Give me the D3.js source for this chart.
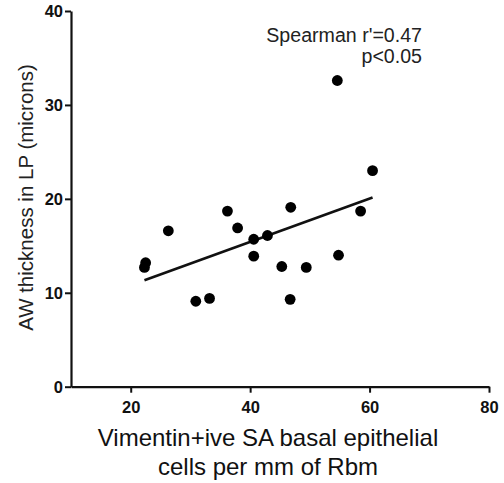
<!DOCTYPE html>
<html>
<head>
<meta charset="utf-8">
<script src="https://cdn.jsdelivr.net/npm/d3@7"></script>
<style>
  html, body { margin: 0; padding: 0; background: #fff; }
  svg { display: block; font-family: "Liberation Sans", Arial, sans-serif; }
</style>
</head>
<body>
<svg id="chart" width="504" height="483"></svg>
<script>
// Vimentin+ive SA basal epithelial cells per mm of Rbm (x) vs AW thickness in LP (y)
const cellsPerMm = [22.5, 22.3, 26.3, 30.9, 33.2, 36.2, 37.9, 40.6, 40.6, 42.9, 45.3, 46.8, 46.7, 49.4, 54.6, 54.8, 58.5, 60.5];
const awThickness = [13.2, 12.7, 16.6, 9.1, 9.4, 18.7, 16.9, 15.7, 13.9, 16.1, 12.8, 19.1, 9.3, 12.7, 32.6, 14.0, 18.7, 23.0];
const xTicks = [20, 40, 60, 80];
const yTicks = [0, 10, 20, 30, 40];
const statLines = ["Spearman r'=0.47", "p<0.05"];

const svg = d3.select("#chart");

const x = d3.scaleLinear().domain([10, 80]).range([71, 489]);
const y = d3.scaleLinear().domain([0, 40]).range([386.7, 11]);

// axes
const xAxis = svg.append("g")
  .attr("transform", `translate(0,${y(0)})`)
  .call(d3.axisBottom(x).tickValues(xTicks).tickSize(6).tickSizeOuter(0).tickPadding(9));
const yAxis = svg.append("g")
  .attr("transform", `translate(${x(10)},0)`)
  .call(d3.axisLeft(y).tickValues(yTicks).tickSize(6).tickSizeOuter(0).tickPadding(2));

[xAxis, yAxis].forEach(g => {
  g.select(".domain").attr("stroke", "#111").attr("stroke-width", 2.2);
  g.selectAll(".tick line").attr("stroke", "#111").attr("stroke-width", 2);
  g.selectAll(".tick text")
    .attr("fill", "#111")
    .style("font-size", "16.5px")
    .style("font-weight", "bold")
    .style("font-family", "'Liberation Sans', Arial, sans-serif");
});
yAxis.selectAll(".tick text").attr("dy", "0.36em");

// least-squares fit over the observed x range
const n = cellsPerMm.length;
const mx = d3.mean(cellsPerMm), my = d3.mean(awThickness);
let sxy = 0, sxx = 0;
for (let i = 0; i < n; i++) {
  sxy += (cellsPerMm[i] - mx) * (awThickness[i] - my);
  sxx += (cellsPerMm[i] - mx) ** 2;
}
const slope = sxy / sxx, intercept = my - slope * mx;
const [x0, x1] = d3.extent(cellsPerMm);
svg.append("line")
  .attr("x1", x(x0)).attr("y1", y(intercept + slope * x0))
  .attr("x2", x(x1)).attr("y2", y(intercept + slope * x1))
  .attr("stroke", "#111").attr("stroke-width", 2.6);

// points
svg.append("g").selectAll("circle")
  .data(cellsPerMm.map((v, i) => [v, awThickness[i]]))
  .join("circle")
  .attr("cx", d => x(d[0]))
  .attr("cy", d => y(d[1]))
  .attr("r", 5.4)
  .attr("fill", "#000");

// statistics annotation
svg.append("g").selectAll("text")
  .data(statLines)
  .join("text")
  .attr("x", 422)
  .attr("y", (d, i) => 41.7 + i * 21.6)
  .attr("text-anchor", "end")
  .attr("fill", "#222")
  .style("font-size", "19.6px")
  .text(d => d);

// axis titles
svg.append("text")
  .attr("transform", `translate(33,197.5) rotate(-90)`)
  .attr("text-anchor", "middle")
  .attr("fill", "#222")
  .style("font-size", "20.5px")
  .text("AW thickness in LP (microns)");

svg.append("g").selectAll("text")
  .data(["Vimentin+ive SA basal epithelial", "cells per mm of Rbm"])
  .join("text")
  .attr("x", 268)
  .attr("y", (d, i) => 446 + i * 29)
  .attr("text-anchor", "middle")
  .attr("fill", "#111")
  .style("font-size", "24px")
  .text(d => d);
</script>
</body>
</html>
